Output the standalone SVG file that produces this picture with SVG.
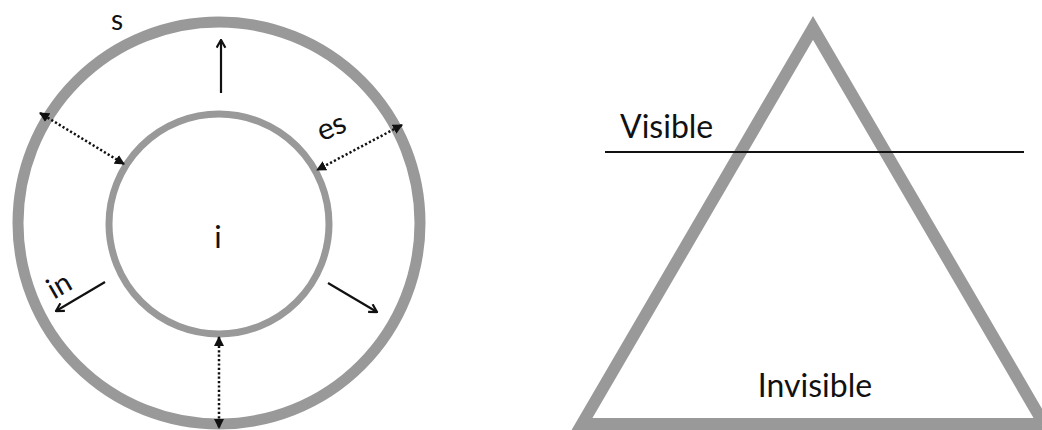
<svg xmlns="http://www.w3.org/2000/svg" width="1042" height="430" viewBox="0 0 1042 430">
<style>
.ring{fill:none;stroke:#999999}
.lbl{font-family:Lato,"Open Sans","DejaVu Sans",sans-serif;fill:#111}
.solid{stroke:#111;stroke-width:2.2;fill:none}
.dot{stroke:#111;stroke-width:2.5;stroke-dasharray:2.2 2.2;fill:none}
</style>
<defs>
<marker id="open" viewBox="0 0 10 10" refX="9" refY="5" markerWidth="11" markerHeight="11" orient="auto-start-reverse" markerUnits="userSpaceOnUse">
<path d="M2,1 L9,5 L2,9" fill="none" stroke="#111" stroke-width="2"/>
</marker>
<marker id="tri" viewBox="0 0 10 10" refX="9" refY="5" markerWidth="10" markerHeight="10" orient="auto-start-reverse" markerUnits="userSpaceOnUse">
<path d="M0,0 L10,5 L0,10 Z" fill="#111"/>
</marker>
</defs>
<rect width="1042" height="430" fill="#fff"/>
<g id="outer-circle"><circle class="ring" cx="219" cy="223" r="201" stroke-width="11"/></g>
<g id="inner-circle"><circle class="ring" cx="219" cy="224" r="110" stroke-width="7"/></g>
<g id="triangle"><polygon class="ring" points="813,28 582,424 1044,424" stroke-width="12" stroke-linejoin="miter"/></g>
<g id="connectors">
<line class="solid" x1="221" y1="93" x2="221" y2="40" marker-end="url(#open)"/>
<line class="solid" x1="105" y1="282" x2="56" y2="311" marker-end="url(#open)"/>
<line class="solid" x1="328" y1="283" x2="377" y2="312" marker-end="url(#open)"/>
<line class="dot" x1="40" y1="113" x2="124" y2="164" marker-start="url(#tri)" marker-end="url(#tri)"/>
<line class="dot" x1="402" y1="125" x2="317" y2="170" marker-start="url(#tri)" marker-end="url(#tri)"/>
<line class="dot" x1="219" y1="337" x2="219" y2="428" marker-start="url(#tri)" marker-end="url(#tri)"/>
<line x1="605" y1="152" x2="1024" y2="152" stroke="#111" stroke-width="2"/>
</g>
<g id="labels">
<text class="lbl" x="117" y="30" font-size="28" text-anchor="middle">s</text>
<text class="lbl" x="218" y="248" font-size="31" text-anchor="middle">i</text>
<text class="lbl" font-size="30" text-anchor="middle" transform="translate(335,136) rotate(-22)">es</text>
<text class="lbl" font-size="29" text-anchor="middle" transform="translate(64,294) rotate(-30)">in</text>
<text class="lbl" x="620" y="138" font-size="32">Visible</text>
<text class="lbl" x="815" y="397" font-size="32" text-anchor="middle">Invisible</text>
</g>
</svg>
